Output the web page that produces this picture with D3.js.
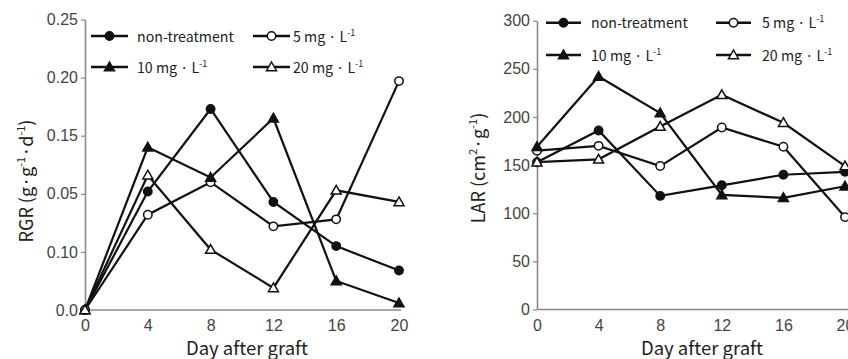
<!DOCTYPE html>
<html><head><meta charset="utf-8">
<script src="https://cdn.jsdelivr.net/npm/d3@7"></script>
<style>
html,body{margin:0;padding:0;background:#fff;}
svg{display:block;font-family:"Noto Sans CJK KR","Noto Sans",sans-serif;}
</style></head>
<body><svg id="chart" width="848" height="359"></svg>
<script>
const days = [0, 4, 8, 12, 16, 20];
const seriesNames = ["non-treatment", "5 mg · L", "10 mg · L", "20 mg · L"];
const seriesSup = ["", "-1", "-1", "-1"];
const seriesMarker = ["circle-filled", "circle-open", "triangle-filled", "triangle-open"];

// RGR (g·g-1·d-1)
const rgrNon = [0, 0.102, 0.173, 0.093, 0.055, 0.034];
const rgr5 = [0, 0.082, 0.110, 0.072, 0.078, 0.197];
const rgr10 = [0, 0.140, 0.114, 0.165, 0.025, 0.006];
const rgr20 = [0, 0.116, 0.052, 0.019, 0.103, 0.093];
const rgrTickValues = [0, 0.05, 0.10, 0.15, 0.20, 0.25];
const rgrTickLabels = ["0.0", "0.10", "0.05", "0.15", "0.20", "0.25"];

// LAR (cm2·g-1)
const larNon = [153, 186, 118, 129, 140, 143];
const lar5 = [165, 170, 149, 189, 169, 96];
const lar10 = [169, 242, 204, 119, 116, 128];
const lar20 = [153, 156, 190, 223, 194, 149];
const larTickValues = [0, 50, 100, 150, 200, 250, 300];
const larTickLabels = ["0", "50", "100", "150", "200", "250", "300"];

const dayTickLabels = ["0", "4", "8", "12", "16", "20"];

const svg = d3.select("#chart");
const AXIS_COLOR = "#8a8a8a";
const TICK_TEXT = "#444";

function drawPanel(cfg) {
  const g = svg.append("g");
  const x = d3.scaleLinear().domain([0, 20]).range(cfg.xRange);
  const y = d3.scaleLinear().domain(cfg.yDomain).range(cfg.yRange);

  // y axis
  const yAxis = d3.axisLeft(y).tickValues(cfg.yTicks)
    .tickFormat((d, i) => cfg.yLabels[i]).tickSizeInner(4).tickSizeOuter(0).tickPadding(3);
  const ya = g.append("g").attr("transform", `translate(${cfg.xRange[0]},0)`).call(yAxis);
  ya.select(".domain").attr("stroke", AXIS_COLOR).attr("stroke-width", 1.6);
  ya.selectAll(".tick line").attr("stroke", AXIS_COLOR).attr("stroke-width", 1.2);
  ya.selectAll(".tick text").attr("fill", TICK_TEXT).attr("font-size", 16).attr("font-family", null);

  // x axis
  const xAxis = d3.axisBottom(x).tickValues(days)
    .tickFormat((d, i) => dayTickLabels[i]).tickSize(0).tickPadding(10);
  const xa = g.append("g").attr("transform", `translate(0,${cfg.yRange[0]})`).call(xAxis);
  xa.select(".domain").attr("stroke", AXIS_COLOR).attr("stroke-width", 1.6)
    .attr("d", `M${cfg.xRange[0]},0H${cfg.xAxisEnd}`);
  xa.selectAll(".tick text").attr("fill", TICK_TEXT).attr("font-size", 16).attr("font-family", null);

  // x title
  g.append("text").attr("x", cfg.xTitleX).attr("y", 355)
    .attr("text-anchor", "middle").attr("font-size", 18.5).attr("fill", "#222")
    .text("Day after graft");

  // y title
  const yt = g.append("text")
    .attr("transform", `translate(${cfg.yTitleX},${cfg.yTitleY}) rotate(-90)`)
    .attr("text-anchor", "middle").attr("font-size", 18).attr("fill", "#222");
  cfg.yTitleParts.forEach(p => {
    const t = yt.append("tspan").text(p.t);
    if (p.sup) t.attr("baseline-shift", "super").attr("font-size", 11);
  });

  // lines
  const line = d3.line().x((d, i) => x(days[i])).y(d => y(d));
  cfg.series.forEach((s, k) => {
    g.append("path").datum(s).attr("d", line)
      .attr("fill", "none").attr("stroke", "#111").attr("stroke-width", 2.2)
      .attr("stroke-linejoin", "miter");
  });
  cfg.series.forEach((s, k) => {
    s.forEach((v, i) => drawMarker(g, seriesMarker[k], x(days[i]), y(v)));
  });

  // legend
  const lg = g.append("g");
  [0, 1, 2, 3].forEach(k => {
    const col = k % 2, row = Math.floor(k / 2);
    const lx = cfg.legX[col], ly = cfg.legY[row];
    lg.append("line").attr("x1", lx).attr("x2", lx + cfg.legLen).attr("y1", ly).attr("y2", ly)
      .attr("stroke", "#111").attr("stroke-width", 2.4);
    drawMarker(lg, seriesMarker[k], lx + cfg.legLen / 2, ly);
    const t = lg.append("text").attr("x", cfg.legTextX[col]).attr("y", ly + 5.5)
      .attr("font-size", 14.2).attr("fill", "#222");
    t.append("tspan").text(seriesNames[k]);
    if (seriesSup[k]) t.append("tspan").attr("baseline-shift", "super").attr("font-size", 9).text(seriesSup[k]);
  });
}

function drawMarker(g, type, cx, cy) {
  if (type.startsWith("circle")) {
    g.append("circle").attr("cx", cx).attr("cy", cy).attr("r", 4.2)
      .attr("fill", type.endsWith("filled") ? "#111" : "#fff")
      .attr("stroke", "#111").attr("stroke-width", 1.5);
  } else {
    const s = 5;
    g.append("path")
      .attr("d", `M${cx},${cy - s}L${cx + s},${cy + s * 0.75}L${cx - s},${cy + s * 0.75}Z`)
      .attr("fill", type.endsWith("filled") ? "#111" : "#fff")
      .attr("stroke", "#111").attr("stroke-width", 1.5);
  }
}

drawPanel({
  xRange: [85, 399], xAxisEnd: 401,
  yDomain: [0, 0.25], yRange: [310, 19.5],
  yTicks: rgrTickValues, yLabels: rgrTickLabels,
  series: [rgrNon, rgr5, rgr10, rgr20],
  xTitleX: 247, yTitleX: 33, yTitleY: 181,
  yTitleParts: [{t: "RGR (g·g"}, {t: "-1", sup: true}, {t: "·d"}, {t: "-1", sup: true}, {t: ")"}],
  legX: [91, 253], legY: [36, 67], legLen: 37, legTextX: [137, 293]
});

drawPanel({
  xRange: [537, 845], xAxisEnd: 848,
  yDomain: [0, 300], yRange: [309.5, 20.7],
  yTicks: larTickValues, yLabels: larTickLabels,
  series: [larNon, lar5, lar10, lar20],
  xTitleX: 702, yTitleX: 485, yTitleY: 168,
  yTitleParts: [{t: "LAR (cm"}, {t: "2", sup: true}, {t: "·g"}, {t: "-1", sup: true}, {t: ")"}],
  legX: [546, 716], legY: [22.7, 55], legLen: 35, legTextX: [591, 762]
});
</script></body></html>
